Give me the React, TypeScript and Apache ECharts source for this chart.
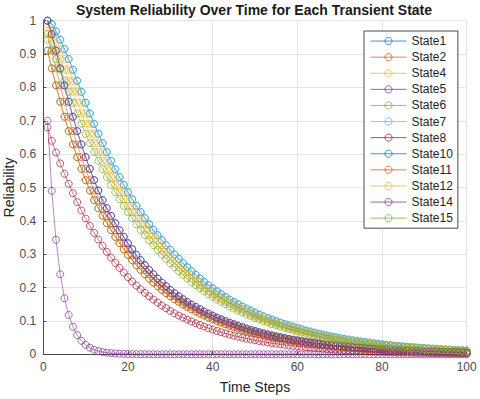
import React, { useEffect, useRef } from "react";
import * as echarts from "echarts";

const stateNames = ["State1", "State2", "State4", "State5", "State6", "State7", "State8", "State10", "State11", "State12", "State14", "State15"];
const stateColors = ["#0072BD", "#D95319", "#EDB120", "#7E2F8E", "#77AC30", "#4DBEEE", "#A2142F", "#0072BD", "#D95319", "#EDB120", "#7E2F8E", "#77AC30"];
const xTicks = [0, 20, 40, 60, 80, 100];

const state1 = [
  1.000, 0.990, 0.968, 0.943, 0.915, 0.885, 0.853, 0.820, 0.787, 0.754,
  0.722, 0.691, 0.661, 0.633, 0.606, 0.580, 0.555, 0.531, 0.508, 0.486,
  0.465, 0.445, 0.426, 0.408, 0.390, 0.373, 0.357, 0.342, 0.327, 0.313,
  0.299, 0.286, 0.273, 0.261, 0.249, 0.238, 0.227, 0.217, 0.207, 0.198,
  0.189, 0.180, 0.172, 0.164, 0.157, 0.150, 0.143, 0.137, 0.131, 0.125,
  0.119, 0.114, 0.109, 0.104, 0.0993, 0.0948, 0.0905, 0.0864, 0.0825, 0.0788,
  0.0751, 0.0716, 0.0682, 0.0650, 0.0619, 0.0590, 0.0562, 0.0536, 0.0511, 0.0487,
  0.0464, 0.0442, 0.0421, 0.0401, 0.0382, 0.0364, 0.0347, 0.0331, 0.0315, 0.0300,
  0.0286, 0.0273, 0.0260, 0.0248, 0.0236, 0.0225, 0.0214, 0.0204, 0.0194, 0.0185,
  0.0176, 0.0168, 0.0160, 0.0152, 0.0145, 0.0138, 0.0132, 0.0126, 0.0120, 0.0114,
];
const state2 = [
  0.960, 0.910, 0.857, 0.806, 0.757, 0.712, 0.669, 0.629, 0.591, 0.556,
  0.522, 0.491, 0.462, 0.438, 0.415, 0.393, 0.372, 0.352, 0.333, 0.315,
  0.298, 0.282, 0.267, 0.253, 0.240, 0.227, 0.215, 0.204, 0.193, 0.183,
  0.174, 0.165, 0.157, 0.149, 0.142, 0.135, 0.128, 0.122, 0.116, 0.110,
  0.105, 0.0998, 0.0948, 0.0901, 0.0856, 0.0813, 0.0772, 0.0733, 0.0697, 0.0662,
  0.0629, 0.0597, 0.0568, 0.0539, 0.0512, 0.0487, 0.0462, 0.0439, 0.0417, 0.0396,
  0.0376, 0.0357, 0.0340, 0.0323, 0.0306, 0.0291, 0.0277, 0.0263, 0.0250, 0.0237,
  0.0225, 0.0214, 0.0203, 0.0193, 0.0183, 0.0174, 0.0166, 0.0157, 0.0149, 0.0142,
  0.0135, 0.0128, 0.0122, 0.0116, 0.0110, 0.0104, 0.0099, 0.0094, 0.0089, 0.0085,
  0.0081, 0.0077, 0.0073, 0.0069, 0.0066, 0.0062, 0.0059, 0.0056, 0.0053, 0.0050,
];
const state4 = [
  0.990, 0.968, 0.943, 0.915, 0.885, 0.853, 0.820, 0.787, 0.754, 0.722,
  0.691, 0.661, 0.633, 0.606, 0.580, 0.555, 0.531, 0.508, 0.486, 0.465,
  0.445, 0.426, 0.408, 0.390, 0.373, 0.357, 0.342, 0.327, 0.313, 0.299,
  0.286, 0.273, 0.261, 0.249, 0.238, 0.227, 0.217, 0.207, 0.198, 0.189,
  0.180, 0.172, 0.164, 0.157, 0.150, 0.143, 0.137, 0.131, 0.125, 0.119,
  0.114, 0.109, 0.104, 0.0993, 0.0948, 0.0905, 0.0864, 0.0825, 0.0788, 0.0751,
  0.0716, 0.0682, 0.0650, 0.0619, 0.0590, 0.0562, 0.0536, 0.0511, 0.0487, 0.0464,
  0.0442, 0.0421, 0.0401, 0.0382, 0.0364, 0.0347, 0.0331, 0.0315, 0.0300, 0.0286,
  0.0273, 0.0260, 0.0248, 0.0236, 0.0225, 0.0214, 0.0204, 0.0194, 0.0185, 0.0176,
  0.0168, 0.0160, 0.0152, 0.0145, 0.0138, 0.0132, 0.0126, 0.0120, 0.0114, 0.0109,
];
const state5 = [
  0.700, 0.490, 0.343, 0.240, 0.168, 0.118, 0.0824, 0.0576, 0.0404, 0.0282,
  0.0198, 0.0138, 0.0097, 0.0068, 0.0047, 0.0033, 0.0023, 0.0016, 0.0011, 0.0008,
  0.0006, 0.0004, 0.0003, 0.0002, 0.0001, 0.0001, 0.0001, 0, 0, 0,
  0, 0, 0, 0, 0, 0, 0, 0, 0, 0,
  0, 0, 0, 0, 0, 0, 0, 0, 0, 0,
  0, 0, 0, 0, 0, 0, 0, 0, 0, 0,
  0, 0, 0, 0, 0, 0, 0, 0, 0, 0,
  0, 0, 0, 0, 0, 0, 0, 0, 0, 0,
  0, 0, 0, 0, 0, 0, 0, 0, 0, 0,
  0, 0, 0, 0, 0, 0, 0, 0, 0, 0,
];
const state6 = [
  0.910, 0.857, 0.806, 0.757, 0.712, 0.669, 0.629, 0.591, 0.556, 0.522,
  0.491, 0.462, 0.438, 0.415, 0.393, 0.372, 0.352, 0.333, 0.315, 0.298,
  0.282, 0.267, 0.253, 0.240, 0.227, 0.215, 0.204, 0.193, 0.183, 0.174,
  0.165, 0.157, 0.149, 0.142, 0.135, 0.128, 0.122, 0.116, 0.110, 0.105,
  0.0998, 0.0948, 0.0901, 0.0856, 0.0813, 0.0772, 0.0733, 0.0697, 0.0662, 0.0629,
  0.0597, 0.0568, 0.0539, 0.0512, 0.0487, 0.0462, 0.0439, 0.0417, 0.0396, 0.0376,
  0.0357, 0.0340, 0.0323, 0.0306, 0.0291, 0.0277, 0.0263, 0.0250, 0.0237, 0.0225,
  0.0214, 0.0203, 0.0193, 0.0183, 0.0174, 0.0166, 0.0157, 0.0149, 0.0142, 0.0135,
  0.0128, 0.0122, 0.0116, 0.0110, 0.0104, 0.0099, 0.0094, 0.0089, 0.0085, 0.0081,
  0.0077, 0.0073, 0.0069, 0.0066, 0.0062, 0.0059, 0.0056, 0.0053, 0.0050, 0.0048,
];
const state7 = [
  1.000, 0.990, 0.968, 0.943, 0.915, 0.885, 0.853, 0.820, 0.787, 0.754,
  0.722, 0.691, 0.661, 0.633, 0.606, 0.580, 0.555, 0.531, 0.508, 0.486,
  0.465, 0.445, 0.426, 0.408, 0.390, 0.373, 0.357, 0.342, 0.327, 0.313,
  0.299, 0.286, 0.273, 0.261, 0.249, 0.238, 0.227, 0.217, 0.207, 0.198,
  0.189, 0.180, 0.172, 0.164, 0.157, 0.150, 0.143, 0.137, 0.131, 0.125,
  0.119, 0.114, 0.109, 0.104, 0.0993, 0.0948, 0.0905, 0.0864, 0.0825, 0.0788,
  0.0751, 0.0716, 0.0682, 0.0650, 0.0619, 0.0590, 0.0562, 0.0536, 0.0511, 0.0487,
  0.0464, 0.0442, 0.0421, 0.0401, 0.0382, 0.0364, 0.0347, 0.0331, 0.0315, 0.0300,
  0.0286, 0.0273, 0.0260, 0.0248, 0.0236, 0.0225, 0.0214, 0.0204, 0.0194, 0.0185,
  0.0176, 0.0168, 0.0160, 0.0152, 0.0145, 0.0138, 0.0132, 0.0126, 0.0120, 0.0114,
];
const state8 = [
  0.680, 0.640, 0.605, 0.572, 0.541, 0.511, 0.483, 0.456, 0.431, 0.407,
  0.385, 0.364, 0.344, 0.325, 0.307, 0.290, 0.274, 0.259, 0.245, 0.231,
  0.218, 0.206, 0.195, 0.184, 0.174, 0.164, 0.155, 0.146, 0.138, 0.130,
  0.123, 0.116, 0.110, 0.104, 0.0983, 0.0929, 0.0878, 0.0830, 0.0784, 0.0741,
  0.0700, 0.0662, 0.0625, 0.0591, 0.0558, 0.0528, 0.0499, 0.0471, 0.0445, 0.0421,
  0.0398, 0.0376, 0.0355, 0.0336, 0.0317, 0.0300, 0.0283, 0.0268, 0.0253, 0.0239,
  0.0226, 0.0213, 0.0202, 0.0191, 0.0180, 0.0170, 0.0161, 0.0152, 0.0144, 0.0136,
  0.0128, 0.0121, 0.0115, 0.0108, 0.0102, 0.0097, 0.0091, 0.0086, 0.0081, 0.0077,
  0.0073, 0.0069, 0.0065, 0.0061, 0.0058, 0.0055, 0.0052, 0.0049, 0.0046, 0.0044,
  0.0041, 0.0039, 0.0037, 0.0035, 0.0033, 0.0031, 0.0029, 0.0028, 0.0026, 0.0025,
];
const state10 = [
  1.000, 0.960, 0.910, 0.857, 0.806, 0.757, 0.712, 0.669, 0.629, 0.591,
  0.556, 0.522, 0.491, 0.462, 0.438, 0.415, 0.393, 0.372, 0.352, 0.333,
  0.315, 0.298, 0.282, 0.267, 0.253, 0.240, 0.227, 0.215, 0.204, 0.193,
  0.183, 0.174, 0.165, 0.157, 0.149, 0.142, 0.135, 0.128, 0.122, 0.116,
  0.110, 0.105, 0.0998, 0.0948, 0.0901, 0.0856, 0.0813, 0.0772, 0.0733, 0.0697,
  0.0662, 0.0629, 0.0597, 0.0568, 0.0539, 0.0512, 0.0487, 0.0462, 0.0439, 0.0417,
  0.0396, 0.0376, 0.0357, 0.0340, 0.0323, 0.0306, 0.0291, 0.0277, 0.0263, 0.0250,
  0.0237, 0.0225, 0.0214, 0.0203, 0.0193, 0.0183, 0.0174, 0.0166, 0.0157, 0.0149,
  0.0142, 0.0135, 0.0128, 0.0122, 0.0116, 0.0110, 0.0104, 0.0099, 0.0094, 0.0089,
  0.0085, 0.0081, 0.0077, 0.0073, 0.0069, 0.0066, 0.0062, 0.0059, 0.0056, 0.0053,
];
const state11 = [
  0.910, 0.857, 0.806, 0.757, 0.712, 0.669, 0.629, 0.591, 0.556, 0.522,
  0.491, 0.462, 0.438, 0.415, 0.393, 0.372, 0.352, 0.333, 0.315, 0.298,
  0.282, 0.267, 0.253, 0.240, 0.227, 0.215, 0.204, 0.193, 0.183, 0.174,
  0.165, 0.157, 0.149, 0.142, 0.135, 0.128, 0.122, 0.116, 0.110, 0.105,
  0.0998, 0.0948, 0.0901, 0.0856, 0.0813, 0.0772, 0.0733, 0.0697, 0.0662, 0.0629,
  0.0597, 0.0568, 0.0539, 0.0512, 0.0487, 0.0462, 0.0439, 0.0417, 0.0396, 0.0376,
  0.0357, 0.0340, 0.0323, 0.0306, 0.0291, 0.0277, 0.0263, 0.0250, 0.0237, 0.0225,
  0.0214, 0.0203, 0.0193, 0.0183, 0.0174, 0.0166, 0.0157, 0.0149, 0.0142, 0.0135,
  0.0128, 0.0122, 0.0116, 0.0110, 0.0104, 0.0099, 0.0094, 0.0089, 0.0085, 0.0081,
  0.0077, 0.0073, 0.0069, 0.0066, 0.0062, 0.0059, 0.0056, 0.0053, 0.0050, 0.0048,
];
const state12 = [
  0.968, 0.943, 0.915, 0.885, 0.853, 0.820, 0.787, 0.754, 0.722, 0.691,
  0.661, 0.633, 0.606, 0.580, 0.555, 0.531, 0.508, 0.486, 0.465, 0.445,
  0.426, 0.408, 0.390, 0.373, 0.357, 0.342, 0.327, 0.313, 0.299, 0.286,
  0.273, 0.261, 0.249, 0.238, 0.227, 0.217, 0.207, 0.198, 0.189, 0.180,
  0.172, 0.164, 0.157, 0.150, 0.143, 0.137, 0.131, 0.125, 0.119, 0.114,
  0.109, 0.104, 0.0993, 0.0948, 0.0905, 0.0864, 0.0825, 0.0788, 0.0751, 0.0716,
  0.0682, 0.0650, 0.0619, 0.0590, 0.0562, 0.0536, 0.0511, 0.0487, 0.0464, 0.0442,
  0.0421, 0.0401, 0.0382, 0.0364, 0.0347, 0.0331, 0.0315, 0.0300, 0.0286, 0.0273,
  0.0260, 0.0248, 0.0236, 0.0225, 0.0214, 0.0204, 0.0194, 0.0185, 0.0176, 0.0168,
  0.0160, 0.0152, 0.0145, 0.0138, 0.0132, 0.0126, 0.0120, 0.0114, 0.0109, 0.0104,
];
const state14 = [
  1.000, 0.960, 0.910, 0.857, 0.806, 0.757, 0.712, 0.669, 0.629, 0.591,
  0.556, 0.522, 0.491, 0.462, 0.438, 0.415, 0.393, 0.372, 0.352, 0.333,
  0.315, 0.298, 0.282, 0.267, 0.253, 0.240, 0.227, 0.215, 0.204, 0.193,
  0.183, 0.174, 0.165, 0.157, 0.149, 0.142, 0.135, 0.128, 0.122, 0.116,
  0.110, 0.105, 0.0998, 0.0948, 0.0901, 0.0856, 0.0813, 0.0772, 0.0733, 0.0697,
  0.0662, 0.0629, 0.0597, 0.0568, 0.0539, 0.0512, 0.0487, 0.0462, 0.0439, 0.0417,
  0.0396, 0.0376, 0.0357, 0.0340, 0.0323, 0.0306, 0.0291, 0.0277, 0.0263, 0.0250,
  0.0237, 0.0225, 0.0214, 0.0203, 0.0193, 0.0183, 0.0174, 0.0166, 0.0157, 0.0149,
  0.0142, 0.0135, 0.0128, 0.0122, 0.0116, 0.0110, 0.0104, 0.0099, 0.0094, 0.0089,
  0.0085, 0.0081, 0.0077, 0.0073, 0.0069, 0.0066, 0.0062, 0.0059, 0.0056, 0.0053,
];
const state15 = [
  0.943, 0.915, 0.885, 0.853, 0.820, 0.787, 0.754, 0.722, 0.691, 0.661,
  0.633, 0.606, 0.580, 0.555, 0.531, 0.508, 0.486, 0.465, 0.445, 0.426,
  0.408, 0.390, 0.373, 0.357, 0.342, 0.327, 0.313, 0.299, 0.286, 0.273,
  0.261, 0.249, 0.238, 0.227, 0.217, 0.207, 0.198, 0.189, 0.180, 0.172,
  0.164, 0.157, 0.150, 0.143, 0.137, 0.131, 0.125, 0.119, 0.114, 0.109,
  0.104, 0.0993, 0.0948, 0.0905, 0.0864, 0.0825, 0.0788, 0.0751, 0.0716, 0.0682,
  0.0650, 0.0619, 0.0590, 0.0562, 0.0536, 0.0511, 0.0487, 0.0464, 0.0442, 0.0421,
  0.0401, 0.0382, 0.0364, 0.0347, 0.0331, 0.0315, 0.0300, 0.0286, 0.0273, 0.0260,
  0.0248, 0.0236, 0.0225, 0.0214, 0.0204, 0.0194, 0.0185, 0.0176, 0.0168, 0.0160,
  0.0152, 0.0145, 0.0138, 0.0132, 0.0126, 0.0120, 0.0114, 0.0109, 0.0104, 0.0099,
];

const stateValues = [state1, state2, state4, state5, state6, state7, state8, state10, state11, state12, state14, state15];

const FONT = "'Liberation Sans', Arial, Helvetica, sans-serif";

export default function App() {
  const ref = useRef<HTMLDivElement>(null);

  useEffect(() => {
    if (!ref.current) return;
    const chart = echarts.init(ref.current, null, { renderer: "svg" });
    const series = stateValues.map((vals, k) => ({
      name: stateNames[k],
      type: "line",
      data: vals.map((v, i) => [i + 1, v]),
      symbol: "circle",
      symbolSize: 7,
      showSymbol: true,
      lineStyle: { color: stateColors[k], width: 0.8, opacity: 0.7 },
      itemStyle: { color: "rgba(255,255,255,0)", borderColor: stateColors[k], borderWidth: 1, opacity: 0.7 },
      emphasis: { disabled: true },
      z: 2 + k * 0.01,
    }));

    chart.setOption({
      animation: false,
      backgroundColor: "#ffffff",
      grid: { left: 43.3, right: 13.3, top: 20.7, bottom: 44.7, containLabel: false },
      xAxis: {
        type: "value",
        min: xTicks[0],
        max: xTicks[xTicks.length - 1],
        interval: 20,
        axisLine: { show: true, onZero: false, lineStyle: { color: "#4d4d4d", width: 1 } },
        axisTick: { show: true, inside: true, length: 3, lineStyle: { color: "#4d4d4d" } },
        axisLabel: { fontFamily: FONT, fontSize: 12, color: "#4d4d4d", margin: 7 },
        splitLine: { show: true, lineStyle: { color: "#e4e4e4", width: 1 } },
      },
      yAxis: {
        type: "value",
        min: 0,
        max: 1,
        interval: 0.1,
        axisLine: { show: true, onZero: false, lineStyle: { color: "#4d4d4d", width: 1 } },
        axisTick: { show: true, inside: true, length: 3, lineStyle: { color: "#4d4d4d" } },
        axisLabel: { fontFamily: FONT, fontSize: 12, color: "#4d4d4d", margin: 7 },
        splitLine: { show: true, lineStyle: { color: "#e4e4e4", width: 1 } },
      },
      legend: {
        orient: "vertical",
        left: 364,
        top: 31,
        padding: [2, 5, 2, 6],
        itemGap: 0,
        itemWidth: 36,
        itemHeight: 9,
        backgroundColor: "#ffffff",
        borderColor: "#4a4a4a",
        borderWidth: 1,
        lineStyle: { width: 1, opacity: 0.75 },
        itemStyle: { borderWidth: 1, opacity: 0.75 },
        textStyle: { fontFamily: FONT, fontSize: 12, color: "#262626", lineHeight: 16.1 },
        data: stateNames,
      },
      graphic: [
        {
          type: "text",
          x: 254,
          y: 10,
          style: {
            text: "System Reliability Over Time for Each Transient State",
            fontFamily: FONT,
            fontSize: 14,
            fontWeight: "bold",
            fill: "#1a1a1a",
            align: "center",
            verticalAlign: "middle",
          },
        },
        {
          type: "text",
          x: 255,
          y: 387,
          style: {
            text: "Time Steps",
            fontFamily: FONT,
            fontSize: 14,
            fill: "#262626",
            align: "center",
            verticalAlign: "middle",
          },
        },
        {
          type: "text",
          x: 9,
          y: 187.5,
          rotation: Math.PI / 2,
          style: {
            text: "Reliability",
            fontFamily: FONT,
            fontSize: 14,
            fill: "#262626",
            align: "center",
            verticalAlign: "middle",
          },
        },
      ],
      series,
    });

    return () => {
      chart.dispose();
    };
  }, []);

  return (
    <div
      ref={ref}
      style={{ position: "fixed", left: 0, top: 0, width: 480, height: 399, background: "#fff" }}
    />
  );
}
